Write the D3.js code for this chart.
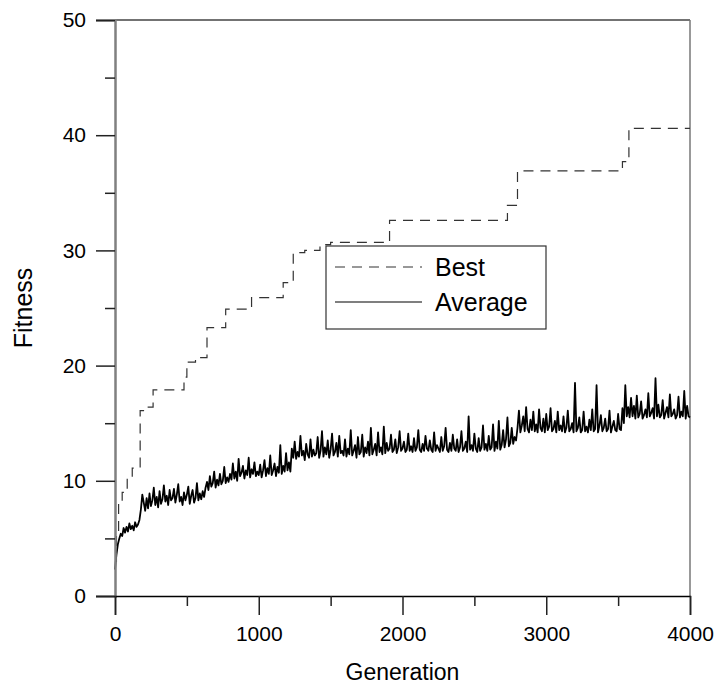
<!DOCTYPE html>
<html>
<head>
<meta charset="utf-8">
<script src="https://cdn.jsdelivr.net/npm/d3@7"></script>
<style>
  body { margin: 0; background: #fff; }
  text { font-family: "Liberation Sans", Arial, sans-serif; }
</style>
</head>
<body>
<div id="chart"></div>
<script>
// best fitness, changes at these generations (step after)
var bestGen = [0, 10, 25, 50, 85, 120, 175, 225, 265, 480, 500, 560, 640, 770, 950, 1170, 1240, 1320, 1426, 1500, 1910, 2730, 2800, 3530, 3575, 4000];
var bestVal = [3.0, 5.5, 8.0, 9.0, 10.3, 11.1, 16.1, 16.4, 17.9, 19.0, 20.3, 20.7, 23.3, 24.9, 25.9, 27.2, 29.8, 30.0, 30.5, 30.7, 32.6, 33.9, 36.9, 37.7, 40.6, 40.6];

// average fitness, every 10 generations from 0 to 4000
var avgStep = 10;
var avgVal = [
  2.3, 3.6, 4.5, 5.0, 5.4, 5.2, 5.9, 5.5, 6.0, 5.6, 6.3, 5.8, 6.1, 5.7, 6.4, 6.0, 6.2, 6.6, 7.5, 8.8,
  8.1, 7.4, 8.5, 7.6, 8.9, 7.8, 8.3, 9.4, 7.9, 8.6, 7.7, 9.1, 8.0, 8.4, 9.6, 8.2, 8.7, 7.9, 9.2, 8.3,
  8.5, 9.3, 8.1, 8.8, 9.7, 8.2, 8.6, 7.9, 9.0, 8.3, 8.8, 9.5, 8.0, 8.7, 9.2, 8.1, 8.5, 9.8, 8.3, 8.9,
  8.4, 9.1, 8.6, 9.4, 9.9, 9.2, 10.4, 9.5, 9.8, 10.8, 9.4, 10.1, 9.6, 10.6, 9.7, 10.0, 11.2, 9.8, 10.3, 9.9,
  10.6, 10.1, 11.5, 10.2, 10.8, 10.0, 11.9, 10.4, 10.7, 11.3, 10.2, 10.9, 10.5, 12.0, 10.3, 11.0, 10.6, 11.6, 10.4, 10.8,
  10.5, 11.4, 10.3, 10.9, 11.8, 10.4, 11.1, 10.6, 12.2, 10.5, 10.9, 11.5, 10.4, 11.2, 10.7, 13.1, 10.6, 11.3, 10.8, 12.4,
  10.9, 11.6, 10.8, 12.8, 12.0, 13.4, 11.9, 12.5, 12.1, 13.9, 12.2, 12.6, 11.8, 13.2, 12.3, 12.0, 13.6, 12.1, 12.7, 12.2,
  12.4, 13.8, 12.0, 12.6, 14.3, 12.1, 12.9, 12.3, 13.5, 12.0, 12.7, 14.1, 12.2, 12.5, 13.3, 12.1, 13.9, 12.4, 12.6, 12.2,
  13.6, 12.1, 12.8, 12.3, 14.4, 12.2, 12.6, 13.1, 12.0, 13.8, 12.3, 12.5, 14.0, 12.1, 12.9, 12.4, 13.4, 12.2, 14.6, 12.3,
  12.7, 13.2, 12.2, 14.2, 12.5, 12.9, 12.3, 14.7, 12.4, 13.3, 12.6, 12.8, 14.0, 12.5, 12.7, 13.6, 12.4, 12.9, 14.3, 12.6,
  12.8, 13.4, 12.5, 12.7, 14.1, 12.6, 13.0, 12.5, 13.7, 12.6, 12.9, 14.4, 12.7, 12.5, 13.2, 12.6, 13.9, 12.8, 12.6, 13.5,
  12.7, 12.5, 14.2, 12.6, 13.1, 12.8, 12.5, 13.8, 12.6, 13.0, 14.6, 12.7, 12.5, 13.3, 12.6, 14.0, 12.8, 12.6, 13.6, 12.5,
  12.9, 14.3, 12.6, 12.8, 13.4, 12.5, 15.6, 12.7, 13.1, 12.6, 14.1, 12.8, 12.5, 13.7, 12.6, 12.9, 14.8, 12.7, 13.2, 12.6,
  13.9, 12.7, 12.9, 14.9, 12.6, 13.4, 12.8, 15.2, 12.7, 13.1, 14.4, 12.9, 13.6, 15.5, 13.0, 13.3, 14.6, 13.2, 13.8, 13.5,
  14.6, 16.1, 14.2, 14.8, 15.6, 14.3, 16.4, 14.5, 14.2, 15.3, 14.4, 16.0, 14.3, 14.9, 14.2, 16.2, 14.6, 14.3, 15.4, 14.2,
  15.8, 14.4, 14.7, 16.3, 14.3, 14.5, 15.2, 14.2, 16.0, 14.4, 14.8, 14.3, 15.6, 14.2, 14.6, 16.1, 14.3, 14.5, 15.0, 14.2,
  18.5, 14.3, 14.6, 15.5, 14.2, 14.4, 16.0, 14.3, 14.7, 14.2, 15.3, 14.4, 16.2, 14.3, 14.5, 18.3, 14.2, 14.8, 15.7, 14.3,
  14.6, 15.4, 14.3, 14.5, 16.1, 14.2, 14.7, 15.2, 14.4, 14.3, 15.8, 14.5, 14.4, 16.3, 15.0, 18.3, 15.6, 16.4, 15.5, 17.2,
  15.6, 16.5, 15.4, 17.4, 15.5, 15.8, 16.9, 15.4, 15.7, 16.2, 15.5, 17.6, 15.6, 15.9, 16.3, 15.4, 18.9, 15.6, 16.6, 15.5,
  15.7, 17.0, 15.4, 15.9, 16.4, 15.5, 17.5, 15.6, 15.8, 16.2, 15.4, 15.7, 17.3, 15.5, 16.0, 15.6, 17.8, 15.4, 16.5, 15.6,
  15.5
];

var xMajor = [0, 1000, 2000, 3000, 4000];
var xMinor = [500, 1500, 2500, 3500];
var yMajor = [0, 10, 20, 30, 40, 50];
var yMinor = [5, 15, 25, 35, 45];
var seriesNames = ["Best", "Average"];

var width = 723, height = 691;
var plotLeft = 115, plotTop = 20, plotRight = 690, plotBottom = 596;

var svg = d3.select('#chart')
            .append('svg')
            .attr('width', width)
            .attr('height', height);

var x = d3.scaleLinear().domain([0, 4000]).range([plotLeft, plotRight]);
var y = d3.scaleLinear().domain([0, 50]).range([plotBottom, plotTop]);

var bestData = bestGen.map(function (g, i) { return {g: g, v: bestVal[i]}; });
var avgData = avgVal.map(function (v, i) { return {g: i * avgStep, v: v}; });

// frame: top and right
svg.append('line')
   .attr('x1', plotLeft).attr('x2', plotRight).attr('y1', plotTop).attr('y2', plotTop)
   .attr('stroke', '#444').attr('stroke-width', 1.5);
svg.append('line')
   .attr('x1', plotRight).attr('x2', plotRight).attr('y1', plotTop).attr('y2', plotBottom)
   .attr('stroke', '#777').attr('stroke-width', 1.5);

// average line
var avgLine = d3.line()
                .x(function (d) { return x(d.g); })
                .y(function (d) { return y(d.v); });

svg.append('path')
   .datum(avgData)
   .attr('d', avgLine)
   .attr('fill', 'none')
   .attr('stroke', '#000')
   .attr('stroke-width', 1.8)
   .attr('stroke-linejoin', 'round');

// best line (steps)
var bestLine = d3.line()
                 .curve(d3.curveStepAfter)
                 .x(function (d) { return x(d.g); })
                 .y(function (d) { return y(d.v); });

svg.append('path')
   .datum(bestData)
   .attr('d', bestLine)
   .attr('fill', 'none')
   .attr('stroke', '#333')
   .attr('stroke-width', 1.2)
   .attr('stroke-dasharray', '10,7');

// y axis
var yAxis = svg.append('g')
               .attr('transform', 'translate(' + plotLeft + ',0)')
               .call(d3.axisLeft(y).tickValues(yMajor).tickSize(19).tickPadding(10).tickFormat(d3.format('d')));
svg.append('g')
   .attr('transform', 'translate(' + plotLeft + ',0)')
   .call(d3.axisLeft(y).tickValues(yMinor).tickSize(10).tickFormat(''))
   .select('.domain').remove();
yAxis.select('.domain').attr('stroke', '#808080').attr('stroke-width', 2.5);

// x axis
var xAxis = svg.append('g')
               .attr('transform', 'translate(0,' + plotBottom + ')')
               .call(d3.axisBottom(x).tickValues(xMajor).tickSize(19).tickPadding(11).tickFormat(d3.format('d')));
svg.append('g')
   .attr('transform', 'translate(0,' + plotBottom + ')')
   .call(d3.axisBottom(x).tickValues(xMinor).tickSize(10).tickFormat(''))
   .select('.domain').remove();
xAxis.select('.domain').attr('stroke', '#000').attr('stroke-width', 1.5);

svg.selectAll('.tick line').attr('stroke', '#222').attr('stroke-width', 1.5);
svg.selectAll('.tick text')
   .style('font-size', '21px')
   .style('font-family', '"Liberation Sans", Arial, sans-serif')
   .attr('fill', '#000');

// axis titles
svg.append('text')
   .attr('x', (plotLeft + plotRight) / 2)
   .attr('y', 680)
   .attr('text-anchor', 'middle')
   .style('font-size', '23px')
   .text('Generation');

svg.append('text')
   .attr('transform', 'translate(32,' + ((plotTop + plotBottom) / 2) + ') rotate(-90)')
   .attr('text-anchor', 'middle')
   .style('font-size', '25px')
   .text('Fitness');

// legend
var legend = svg.append('g');
legend.append('rect')
      .attr('x', 326).attr('y', 246)
      .attr('width', 220).attr('height', 83)
      .attr('fill', '#fff')
      .attr('stroke', '#333')
      .attr('stroke-width', 1.2);

var legendRows = [
  {name: seriesNames[0], dash: '10,7', color: '#333', ly: 267},
  {name: seriesNames[1], dash: null, color: '#000', ly: 302}
];

legendRows.forEach(function (r) {
  legend.append('line')
        .attr('x1', 335).attr('x2', 422)
        .attr('y1', r.ly).attr('y2', r.ly)
        .attr('stroke', r.color)
        .attr('stroke-width', 1.2)
        .attr('stroke-dasharray', r.dash);
  legend.append('text')
        .attr('x', 435)
        .attr('y', r.ly + 9)
        .style('font-size', '25px')
        .text(r.name);
});
</script>
</body>
</html>
